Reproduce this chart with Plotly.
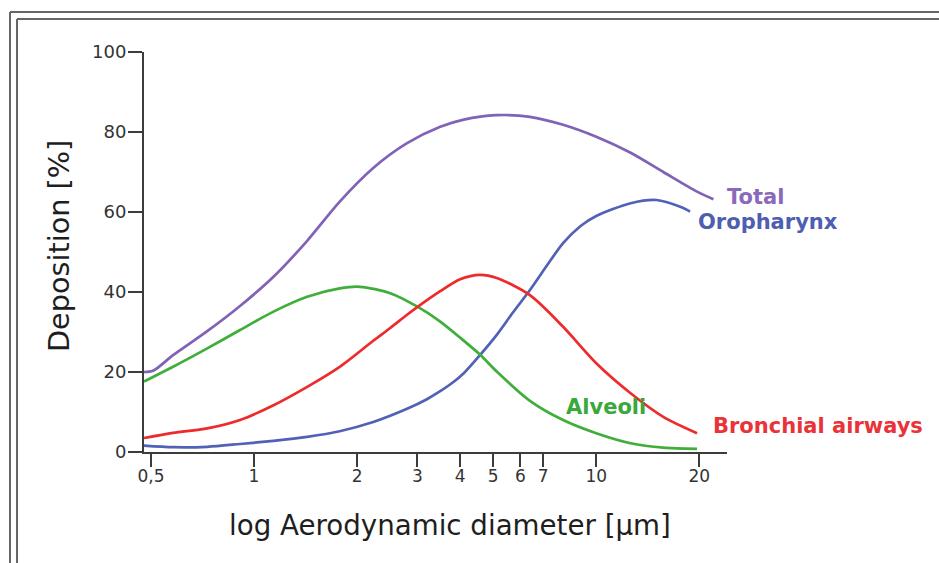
import numpy as np
import plotly.graph_objects as go

# ---- data ----
total_x = [0.477, 0.507, 0.58, 0.73, 0.91, 1.14, 1.43, 1.78, 2.23, 2.8, 3.5, 4.1, 5.1, 6.4, 8.0, 10.0, 12.6, 15.7, 19.7, 22.0]
total_y = [20.0, 20.3, 24.2, 30.2, 36.5, 43.8, 52.8, 62.6, 71.0, 77.2, 81.3, 83.1, 84.2, 83.8, 81.8, 78.8, 74.8, 70.0, 65.1, 63.2]

alv_x = [0.477, 0.58, 0.73, 0.91, 1.14, 1.43, 1.78, 2.04, 2.5, 3.02, 3.5, 4.0, 4.58, 5.12, 6.4, 8.0, 10.0, 12.6, 15.7, 19.7]
alv_y = [17.6, 21.3, 25.9, 30.5, 35.1, 38.8, 40.9, 41.3, 39.7, 36.2, 32.6, 28.6, 24.3, 20.1, 12.8, 8.0, 4.7, 2.2, 1.1, 0.8]

bro_x = [0.477, 0.58, 0.73, 0.91, 1.14, 1.43, 1.78, 2.23, 2.5, 2.8, 3.02, 3.5, 4.0, 4.58, 5.12, 6.4, 8.0, 10.0, 12.6, 15.7, 19.7]
bro_y = [3.5, 4.8, 5.9, 8.0, 11.7, 16.3, 21.3, 27.8, 31.0, 34.3, 36.4, 40.2, 43.2, 44.3, 43.5, 39.2, 31.3, 22.2, 14.7, 8.8, 4.7]

oro_x = [0.477, 0.58, 0.73, 0.91, 1.14, 1.43, 1.78, 2.23, 2.8, 3.2, 3.5, 3.8, 4.1, 4.58, 5.12, 5.7, 6.4, 7.2, 8.0, 9.0, 10.0, 12.6, 15.0, 17.6, 18.8]
oro_y = [1.6, 1.2, 1.3, 2.0, 2.8, 3.8, 5.2, 7.5, 10.8, 13.2, 15.2, 17.3, 19.7, 24.3, 29.3, 34.8, 40.5, 46.8, 52.2, 56.5, 59.0, 62.2, 63.0, 61.3, 60.1]

tick_vals = [0.5, 1, 2, 3, 4, 5, 6, 7, 10, 20]
tick_text = ["0,5", "1", "2", "3", "4", "5", "6", "7", "10", "20"]
y_ticks = [0, 20, 40, 60, 80, 100]

series = [
    ("Total", total_x, total_y, "#8062b6", "#8a68bb", 23.8, 63.8),
    ("Oropharynx", oro_x, oro_y, "#5161b6", "#4e5eb0", 19.6, 57.4),
    ("Alveoli", alv_x, alv_y, "#3fae3a", "#3aa83a", 8.05, 11.3),
    ("Bronchial airways", bro_x, bro_y, "#ee2a2a", "#ea3338", 21.6, 6.6),
]

FONT = "DejaVu Sans"
AX = "#3c3c3c"

fig = go.Figure()
for name, xs, ys, lc, tc, lx, ly in series:
    fig.add_trace(go.Scatter(x=xs, y=ys, mode="lines", name=name,
                             line=dict(color=lc, width=2.7, shape="spline", smoothing=0.8),
                             showlegend=False, hoverinfo="skip"))
    fig.add_annotation(x=np.log10(lx), y=ly, xref="x", yref="y", text="<b>%s</b>" % name,
                       showarrow=False, xanchor="left", yanchor="middle",
                       font=dict(family=FONT, size=21, color=tc))

W, H = 939, 563
L, R, T, B = 144, 212, 52, 111
pw, ph = W - L - R, H - T - B


def px(xp):
    return (xp - L) / pw


def py(yp):
    return (H - B - yp) / ph


# axis titles
fig.add_annotation(x=px(450), y=py(525), xref="paper", yref="paper",
                   text="log Aerodynamic diameter [µm]", showarrow=False,
                   xanchor="center", yanchor="middle",
                   font=dict(family=FONT, size=27.7, color="#1e1e1e"))
fig.add_annotation(x=px(59), y=py(246), xref="paper", yref="paper",
                   text="Deposition [%]", showarrow=False, textangle=-90,
                   xanchor="center", yanchor="middle",
                   font=dict(family=FONT, size=28.7, color="#1e1e1e"))

# double frame (top and left edges)
for off in (10, 17):
    fig.add_shape(type="line", xref="paper", yref="paper",
                  x0=px(off), x1=px(W + 20), y0=py(off + 2), y1=py(off + 2),
                  line=dict(color="#666666", width=2))
    fig.add_shape(type="line", xref="paper", yref="paper",
                  x0=px(off), x1=px(off), y0=py(off + 2), y1=py(H + 20),
                  line=dict(color="#666666", width=2))

fig.update_layout(
    width=W, height=H, autosize=False,
    margin=dict(l=L, r=R, t=T, b=B, pad=0),
    paper_bgcolor="white", plot_bgcolor="white",
    font=dict(family=FONT, size=18, color="#333333"),
    xaxis=dict(type="log", range=[np.log10(0.477), np.log10(24.1)],
               tickmode="array", tickvals=tick_vals, ticktext=tick_text,
               showline=True, linecolor=AX, linewidth=2,
               ticks="outside", ticklen=13, tickwidth=2, tickcolor=AX,
               ticklabelstandoff=-5,
               showgrid=False, zeroline=False,
               tickfont=dict(family=FONT, size=17, color="#333333")),
    yaxis=dict(range=[0, 100], tickmode="array", tickvals=y_ticks,
               showline=True, linecolor=AX, linewidth=2,
               ticks="outside", ticklen=14, tickwidth=2, tickcolor=AX,
               ticklabelstandoff=-2,
               showgrid=False, zeroline=False,
               tickfont=dict(family=FONT, size=18, color="#333333")),
)

fig.write_html("out.html", config={"displayModeBar": False},
               post_script="document.body.style.margin='0px';")
